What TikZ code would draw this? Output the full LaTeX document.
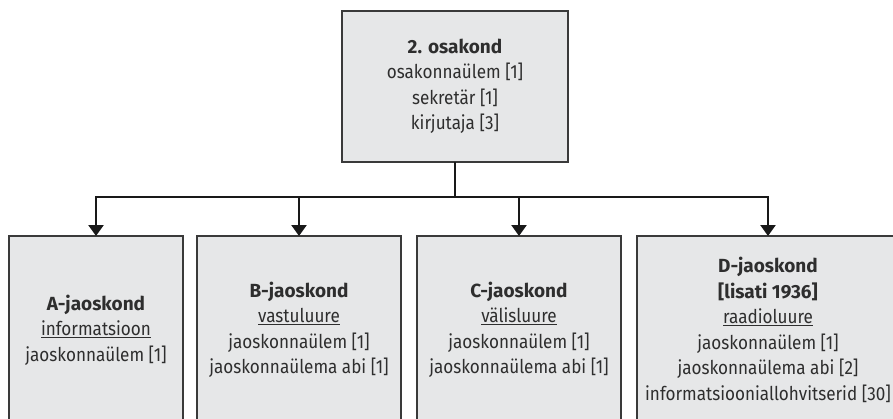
\documentclass[tikz,border=0pt]{standalone}
\usepackage{fontspec}
\setmainfont{Fira Sans}[FakeStretch=0.9, BoldFeatures={FakeStretch=1.0}]
\usetikzlibrary{arrows.meta}
\definecolor{boxfill}{HTML}{E6E7E8}
\definecolor{boxline}{HTML}{3A3A3A}
\definecolor{txt}{HTML}{2E2E2E}
\begin{document}
\begin{tikzpicture}[x=1pt,y=-1pt,
  unitbox/.style={draw=boxline, fill=boxfill, line width=1.2pt, inner sep=0pt, outer sep=0pt,
    align=center, text=txt, font=\fontsize{19}{25.5}\selectfont},
  conn/.style={draw=black!90, line width=2.4pt},
  arr/.style={conn, -{Triangle[width=15pt,length=11pt]}}]
\useasboundingbox (0,0) rectangle (893,418);
\begin{scope}
\clip (0,0) rectangle (893,418);
\node[unitbox, minimum width=226pt, minimum height=151pt] (top) at (455,86.5)
  {\textbf{2. osakond}\\osakonnaülem [1]\\sekretär [1]\\kirjutaja [3]};
\node[unitbox, minimum width=174pt, minimum height=188pt] (A) at (96,330)
  {\textbf{A-jaoskond}\\\underline{informatsioon}\\jaoskonnaülem [1]};
\node[unitbox, minimum width=204pt, minimum height=188pt] (B) at (299,330)
  {\textbf{B-jaoskond}\\\underline{vastuluure}\\jaoskonnaülem [1]\\jaoskonnaülema abi [1]};
\node[unitbox, minimum width=204pt, minimum height=188pt] (C) at (519,330)
  {\textbf{C-jaoskond}\\\underline{välisluure}\\jaoskonnaülem [1]\\jaoskonnaülema abi [1]};
\node[unitbox, minimum width=262pt, minimum height=188pt] (D) at (768,330)
  {\textbf{D-jaoskond}\\\textbf{[lisati 1936]}\\\underline{raadioluure}\\jaoskonnaülem [1]\\jaoskonnaülema abi [2]\\informatsiooniallohvitserid [30]};
\end{scope}
\coordinate (bus) at (455,197);
\draw[conn] (top.south) -- (bus);
\draw[conn, line cap=rect] (A.north |- bus) -- (D.north |- bus);
\foreach \n in {A,B,C,D} \draw[arr] (\n.north |- bus) -- (\n.north);
\end{tikzpicture}
\end{document}
